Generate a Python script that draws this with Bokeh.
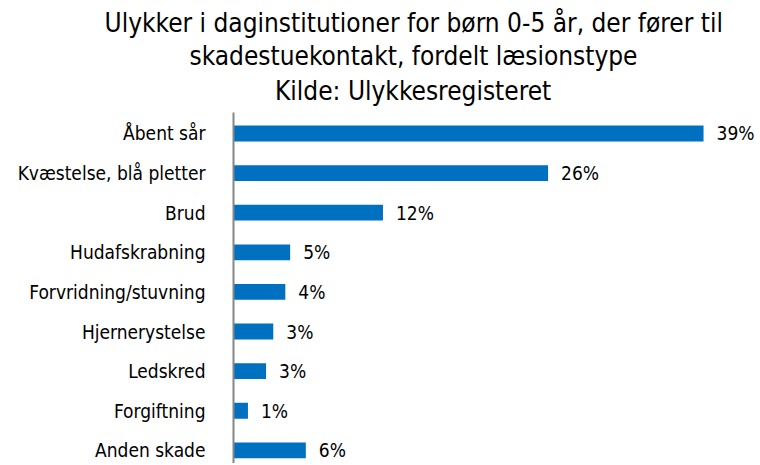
from bokeh.plotting import figure
from bokeh.models import Range1d, FixedTicker, ColumnDataSource, Title
from bokeh.core.properties import value
from bokeh.embed import file_html
from bokeh.resources import INLINE

categories = ["Åbent sår", "Kvæstelse, blå pletter", "Brud", "Hudafskrabning",
              "Forvridning/stuvning", "Hjernerystelse", "Ledskred", "Forgiftning",
              "Anden skade"]
values = [39.0, 26.1, 12.4, 4.7, 4.3, 3.3, 2.7, 1.2, 6.0]
value_labels = ["39%", "26%", "12%", "5%", "4%", "3%", "3%", "1%", "6%"]
title_lines = ["Ulykker i daginstitutioner  for børn 0-5 år, der fører til",
               "skadestuekontakt, fordelt læsionstype",
               "Kilde: Ulykkesregisteret"]
# approximate rendered widths (px) of the title lines, used to centre them
title_widths = [618, 448, 277]
title_standoffs = [0, 2, 9]
title_valign = ["bottom", "bottom", "top"]

FONT = "DejaVu Sans Condensed"
W, H = 758, 463
LEFT, TOP = 233, 112
TITLE_CX = 413
n = len(categories)
pos = [n - 1 - i for i in range(n)]

X_END, Y_START, Y_END = 43.56, -0.333, 8.53

src = ColumnDataSource(dict(y=pos, v=values, lab=value_labels))

p = figure(width=W, height=H, output_backend="svg", toolbar_location=None,
           x_range=Range1d(0, X_END), y_range=Range1d(Y_START, Y_END),
           x_axis_location=None, min_border_left=LEFT, min_border_right=0,
           min_border_top=TOP, min_border_bottom=0)
p.outline_line_color = None
p.xgrid.visible = False
p.ygrid.visible = False

for i in reversed(range(len(title_lines))):
    p.add_layout(Title(text=title_lines[i], align="left",
                       vertical_align=title_valign[i],
                       offset=TITLE_CX - title_widths[i] / 2 - LEFT,
                       text_font=FONT, text_font_size="26px",
                       text_font_style="normal", text_color="#000000",
                       standoff=title_standoffs[i]), "above")

p.hbar(y="y", right="v", left=0, height=0.4, source=src,
       fill_color="#0070C0", line_color=None)
p.text(x="v", y="y", text="lab", source=src, x_offset=13,
       text_baseline="middle", text_align="left", text_font_size="19px",
       text_font=value(FONT), text_color="#000000")

ax = p.yaxis[0]
ax.ticker = FixedTicker(ticks=pos)
ax.major_label_overrides = {pv: c for pv, c in zip(pos, categories)}
ax.major_tick_line_color = None
ax.minor_tick_line_color = None
ax.axis_line_color = "#868686"
ax.axis_line_width = 2
ax.major_label_text_font = FONT
ax.major_label_text_font_size = "19px"
ax.major_label_text_color = "#000000"
ax.major_label_standoff = 22

open("out.html", "w").write(file_html(p, INLINE))
